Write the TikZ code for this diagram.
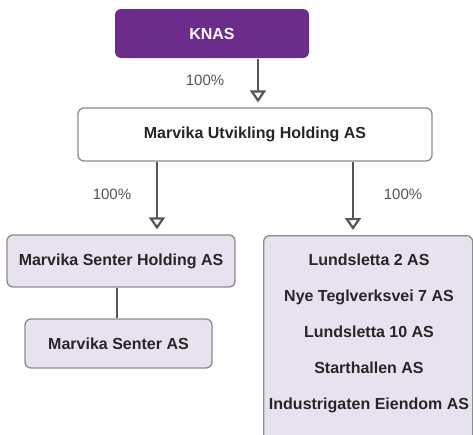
\documentclass[tikz,border=0pt]{standalone}
\usepackage{fontspec}
\setmainfont{Liberation Sans}
\usetikzlibrary{arrows.meta}
\definecolor{knaspurple}{RGB}{107,44,140}
\definecolor{lavender}{RGB}{232,226,240}
\definecolor{edgegray}{RGB}{140,140,140}
\definecolor{linegray}{RGB}{85,85,85}
\begin{document}
\begin{tikzpicture}[x=1pt,y=-1pt,
	box/.style={draw=edgegray,line width=1.3pt,rounded corners=6pt,inner sep=0pt,
		font=\fontsize{16}{18}\selectfont\bfseries,text=black!85},
	owner/.style={box,draw=none,fill=knaspurple,text=white},
	sub/.style={box,fill=lavender},
	pct/.style={font=\fontsize{15}{18}\selectfont,text=linegray},
	own/.style={draw=linegray,line width=1.6pt,-{Triangle[open,length=12pt,width=16pt,line width=2.2pt]},shorten >=5pt}]
	\useasboundingbox (0,0) rectangle (473,434);
	\node[owner,minimum width=194,minimum height=49] (knas) at (212,33.5) {KNAS};
	\node[box,fill=white,minimum width=354,minimum height=53] (muh) at (255,134.5) {Marvika Utvikling Holding AS};
	\node[sub,minimum width=228,minimum height=52] (msh) at (121,261) {Marvika Senter Holding AS};
	\node[sub,minimum width=187,minimum height=49] (ms) at (118.5,343.5) {Marvika Senter AS};
	\node[sub,minimum width=209,minimum height=215,anchor=north west] (grp) at (263,235) {};
	\node[align=center,font=\fontsize{16}{36}\selectfont\bfseries,text=black!85] (grptxt) at (369,333)
		{Lundsletta 2 AS\\Nye Teglverksvei 7 AS\\Lundsletta 10 AS\\Starthallen AS\\Industrigaten Eiendom AS};
	% ownership arrows
	\draw[own] ([xshift=46]knas.south) -- ([xshift=46]knas.south |- muh.north);
	\draw[own] ([xshift=-98]muh.south) -- ([xshift=-98]muh.south |- msh.north);
	\draw[own] ([xshift=98]muh.south) -- ([xshift=98]muh.south |- grp.north);
	\draw[draw=linegray,line width=1.3pt] ([xshift=-4]msh.south) -- ([xshift=-4]msh.south |- ms.north);
	\node[pct] (p1) at (205,80) {100\%};
	\node[pct] (p2) at (112,194) {100\%};
	\node[pct] (p3) at (403,194) {100\%};
\end{tikzpicture}
\end{document}
